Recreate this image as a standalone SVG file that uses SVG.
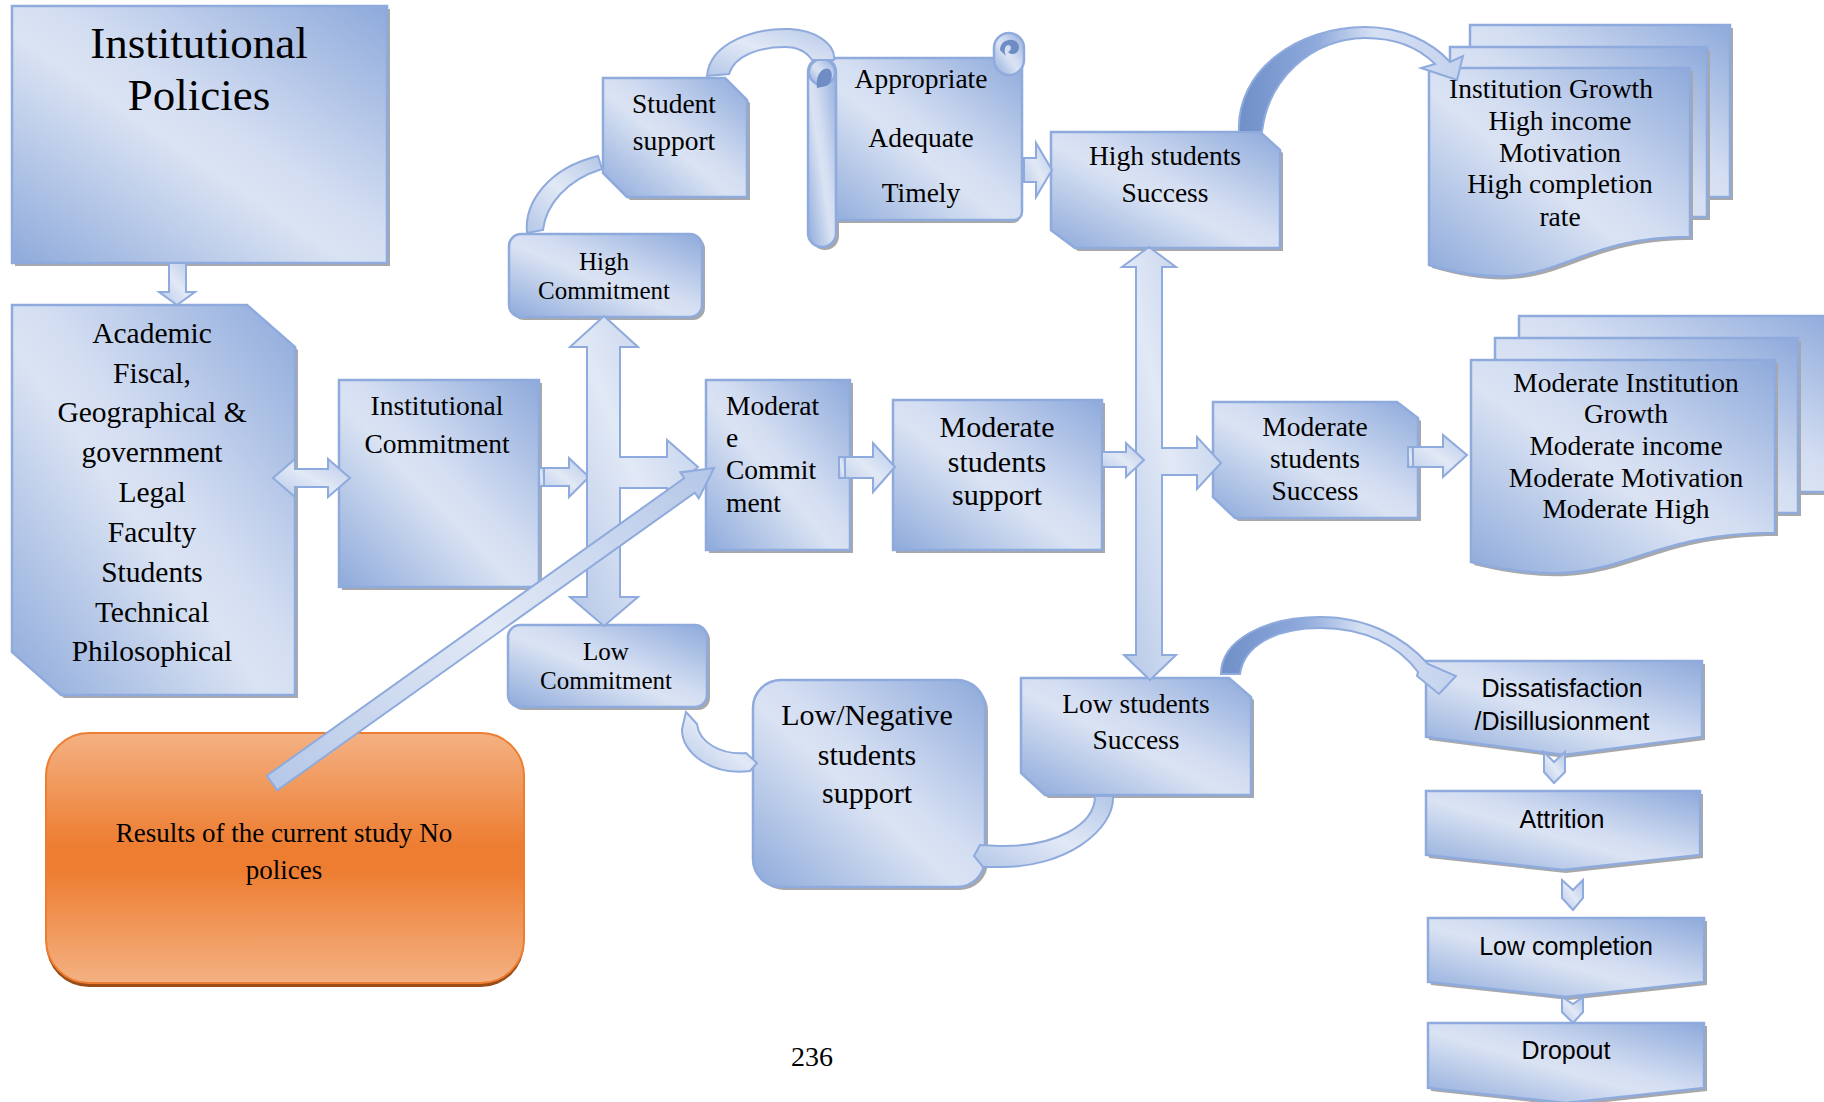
<svg xmlns="http://www.w3.org/2000/svg" width="1824" height="1102" viewBox="0 0 1824 1102">
<defs>
<linearGradient id="g" x1="1" y1="0" x2="0" y2="1">
<stop offset="0" stop-color="#8eaadb"/>
<stop offset="0.45" stop-color="#d4def2"/>
<stop offset="0.55" stop-color="#dae3f3"/>
<stop offset="1" stop-color="#8eaadb"/>
</linearGradient>
<linearGradient id="ga" x1="1" y1="0" x2="0" y2="1">
<stop offset="0" stop-color="#b4c7e7"/>
<stop offset="0.5" stop-color="#e2e9f6"/>
<stop offset="1" stop-color="#b4c7e7"/>
</linearGradient>
<linearGradient id="gc" x1="0" y1="0" x2="1" y2="0">
<stop offset="0" stop-color="#6f8fc8"/>
<stop offset="0.35" stop-color="#8faadc"/>
<stop offset="0.6" stop-color="#d6e0f3"/>
<stop offset="1" stop-color="#c4d3ee"/>
</linearGradient>
<linearGradient id="go" x1="0" y1="0" x2="0" y2="1">
<stop offset="0" stop-color="#f4b183"/>
<stop offset="0.45" stop-color="#ed7d31"/>
<stop offset="0.55" stop-color="#ed7d31"/>
<stop offset="1" stop-color="#f4b183"/>
</linearGradient>
<style>
.n{fill:url(#g);stroke:#8faadc;stroke-width:2.5}
.sh{fill:#a8a8a8}
.a{fill:url(#ga);stroke:#8faadc;stroke-width:2}
.c{fill:url(#gc);stroke:#8faadc;stroke-width:2}
.dk{fill:#6f8cc4}
.t{font-family:"Liberation Serif","Times New Roman",serif;fill:#000;text-anchor:middle}
.s{font-family:"Liberation Sans",Arial,sans-serif;fill:#000;text-anchor:middle;font-size:25px}
</style>
</defs>
<rect width="1824" height="1102" fill="#fff"/>

<g id="institutional-policies">
<rect class="sh" x="15" y="9" width="375" height="257"/>
<rect class="n" x="12" y="6" width="375" height="257"/>
<text class="t" font-size="45" x="199" y="58">Institutional</text>
<text class="t" font-size="45" x="199" y="110">Policies</text>
</g>

<g id="academic">
<polygon class="sh" points="15,308 250,308 298,350 298,698 64,698 15,655"/>
<polygon class="n" points="12,305 247,305 295,347 295,695 61,695 12,652"/>
<g class="t" font-size="29.5">
<text x="152" y="343">Academic</text>
<text x="152" y="383">Fiscal,</text>
<text x="152" y="422">Geographical &amp;</text>
<text x="152" y="462">government</text>
<text x="152" y="502">Legal</text>
<text x="152" y="542">Faculty</text>
<text x="152" y="582">Students</text>
<text x="152" y="622">Technical</text>
<text x="152" y="661">Philosophical</text>
</g>
</g>

<g id="institutional-commitment">
<rect class="sh" x="342" y="383" width="200" height="207"/>
<rect class="n" x="339" y="380" width="200" height="207"/>
<text class="t" font-size="27.5" x="437" y="415">Institutional</text>
<text class="t" font-size="27.5" x="437" y="453">Commitment</text>
</g>

<g id="high-commitment">
<rect class="sh" x="512" y="237" width="193" height="83" rx="12"/>
<rect class="n" x="509" y="234" width="193" height="83" rx="12"/>
<text class="t" font-size="25" x="604" y="270">High</text>
<text class="t" font-size="25" x="604" y="299">Commitment</text>
</g>

<g id="low-commitment">
<rect class="sh" x="511" y="628" width="199" height="82" rx="12"/>
<rect class="n" x="508" y="625" width="199" height="82" rx="12"/>
<text class="t" font-size="25" x="606" y="660">Low</text>
<text class="t" font-size="25" x="606" y="689">Commitment</text>
</g>

<g id="student-support">
<polygon class="sh" points="606,81 728,81 750,103 750,200 630,200 606,176"/>
<polygon class="n" points="603,78 725,78 747,100 747,197 627,197 603,173"/>
<text class="t" font-size="27.5" x="674" y="113">Student</text>
<text class="t" font-size="27.5" x="674" y="150">support</text>
</g>

<g id="appropriate-scroll">
<rect class="sh" x="825" y="61" width="196" height="162" rx="8"/>
<rect class="sh" x="811" y="61" width="28" height="189" rx="14"/>
<rect class="n" x="822" y="58" width="200" height="162" rx="8"/>
<rect class="n" x="994" y="33" width="30" height="42" rx="15"/>
<path class="dk" d="M1000 50 C1000 38 1018 36 1019 47 C1019 54 1012 56 1008 52 C1012 50 1012 45 1008 45 C1004 46 1004 52 1006 56 Z"/>
<rect class="n" x="808" y="58" width="28" height="189" rx="14"/>
<circle class="n" cx="822" cy="72" r="13"/>
<path class="dk" d="M817 88 C815 76 822 66 829 69 C834 72 832 84 826 86 Z"/>
<text class="t" font-size="27.5" x="921" y="88">Appropriate</text>
<text class="t" font-size="27.5" x="921" y="147">Adequate</text>
<text class="t" font-size="27.5" x="921" y="202">Timely</text>
</g>

<g id="high-students-success">
<polygon class="sh" points="1054,135 1263,135 1283,153 1283,251 1078,251 1054,233"/>
<polygon class="n" points="1051,132 1260,132 1280,150 1280,248 1075,248 1051,230"/>
<text class="t" font-size="27.5" x="1165" y="165">High students</text>
<text class="t" font-size="27.5" x="1165" y="202">Success</text>
</g>

<g id="institution-growth">
<rect class="sh" x="1473" y="28" width="260" height="172"/>
<rect class="n" x="1470" y="25" width="260" height="172"/>
<rect class="sh" x="1453" y="50" width="257" height="170"/>
<rect class="n" x="1450" y="47" width="257" height="170"/>
<path class="sh" d="M1432 71 L1693 71 L1693 240 C1562 240 1562 305 1432 268 Z"/>
<path class="n" d="M1429 68 L1690 68 L1690 237 C1559 237 1559 302 1429 265 Z"/>
<g class="t" font-size="27.5">
<text x="1551" y="98">Institution Growth</text>
<text x="1560" y="130">High income</text>
<text x="1560" y="162">Motivation</text>
<text x="1560" y="193">High completion</text>
<text x="1560" y="226">rate</text>
</g>
</g>

<g id="moderate-commitment">
<rect class="sh" x="709" y="383" width="144" height="170"/>
<rect class="n" x="706" y="380" width="144" height="170"/>
<g class="t" font-size="27.5" style="text-anchor:start">
<text x="726" y="415">Moderat</text>
<text x="726" y="447">e</text>
<text x="726" y="479">Commit</text>
<text x="726" y="512">ment</text>
</g>
</g>

<g id="moderate-students-support">
<rect class="sh" x="896" y="403" width="209" height="150"/>
<rect class="n" x="893" y="400" width="209" height="150"/>
<text class="t" font-size="30" x="997" y="437">Moderate</text>
<text class="t" font-size="30" x="997" y="472">students</text>
<text class="t" font-size="30" x="997" y="505">support</text>
</g>

<g id="moderate-students-success">
<polygon class="sh" points="1216,405 1400,405 1421,421 1421,521 1238,521 1216,500"/>
<polygon class="n" points="1213,402 1397,402 1418,418 1418,518 1235,518 1213,497"/>
<text class="t" font-size="27.5" x="1315" y="436">Moderate</text>
<text class="t" font-size="27.5" x="1315" y="468">students</text>
<text class="t" font-size="27.5" x="1315" y="500">Success</text>
</g>

<g id="moderate-growth">
<rect class="sh" x="1522" y="319" width="320" height="176"/>
<rect class="n" x="1519" y="316" width="320" height="176"/>
<rect class="sh" x="1498" y="341" width="303" height="175"/>
<rect class="n" x="1495" y="338" width="303" height="175"/>
<path class="sh" d="M1474 363 L1778 363 L1778 536 C1626 536 1626 602 1474 565 Z"/>
<path class="n" d="M1471 360 L1775 360 L1775 533 C1623 533 1623 599 1471 562 Z"/>
<g class="t" font-size="27.5">
<text x="1626" y="392">Moderate Institution</text>
<text x="1626" y="423">Growth</text>
<text x="1626" y="455">Moderate income</text>
<text x="1626" y="487">Moderate Motivation</text>
<text x="1626" y="518">Moderate High</text>
</g>
</g>

<g id="low-students-success">
<polygon class="sh" points="1024,681 1232,681 1254,700 1254,798 1048,798 1024,776"/>
<polygon class="n" points="1021,678 1229,678 1251,697 1251,795 1045,795 1021,773"/>
<text class="t" font-size="27.5" x="1136" y="713">Low students</text>
<text class="t" font-size="27.5" x="1136" y="749">Success</text>
</g>

<g id="low-negative-support">
<rect class="sh" x="756" y="683" width="232" height="207" rx="28"/>
<rect class="n" x="753" y="680" width="232" height="207" rx="28"/>
<text class="t" font-size="30" x="867" y="725">Low/Negative</text>
<text class="t" font-size="30" x="867" y="765">students</text>
<text class="t" font-size="30" x="867" y="803">support</text>
</g>

<g id="results">
<rect x="46" y="737" width="478" height="250" rx="43" fill="#9a4b16"/>
<rect x="46" y="733" width="478" height="250" rx="43" fill="url(#go)" stroke="#ed7d31" stroke-width="2"/>
<text class="t" font-size="27" x="284" y="842">Results of the current study No</text>
<text class="t" font-size="27" x="284" y="879">polices</text>
</g>

<g id="dissatisfaction">
<polygon class="sh" points="1429,664 1705,664 1705,740 1565,758 1429,740"/>
<polygon class="n" points="1426,661 1702,661 1702,737 1564,755 1426,737"/>
<text class="s" x="1562" y="697">Dissatisfaction</text>
<text class="s" x="1562" y="730">/Disillusionment</text>
</g>

<g id="attrition">
<polygon class="sh" points="1429,794 1703,794 1703,858 1566,873 1429,858"/>
<polygon class="n" points="1426,791 1700,791 1700,855 1563,870 1426,855"/>
<text class="s" x="1562" y="828">Attrition</text>
</g>

<g id="low-completion">
<polygon class="sh" points="1431,921 1707,921 1707,985 1569,1000 1431,985"/>
<polygon class="n" points="1428,918 1704,918 1704,982 1566,997 1428,982"/>
<text class="s" x="1566" y="955">Low completion</text>
</g>

<g id="dropout">
<polygon class="sh" points="1431,1026 1707,1026 1707,1091 1569,1106 1431,1091"/>
<polygon class="n" points="1428,1023 1704,1023 1704,1088 1566,1103 1428,1088"/>
<text class="s" x="1566" y="1059">Dropout</text>
</g>

<g id="page-number">
<text class="t" font-size="28" x="812" y="1066">236</text>
</g>

<g id="connectors">
<polygon class="a" points="169,263 186,263 186,292 195,292 177,305 159,292 169,292"/>
<polygon class="a" points="273,478 295,459 295,469 328,469 328,459 350,478 328,497 328,487 295,487 295,497"/>
<polygon class="a" points="539,468 569,468 569,458 589,477 569,497 569,486 539,486"/>
<rect class="a" x="539" y="468" width="5" height="18"/>
<polygon class="a" points="604,316 638,347 620,347 620,457 667,457 667,440 698,467 667,494 667,488 620,488 620,597 638,597 604,626 570,597 587,597 587,347 570,347"/>
<polygon class="a" points="839,457 873,457 873,443 895,467 873,492 873,478 839,478"/>
<rect class="a" x="839" y="457" width="6" height="21"/>
<polygon class="a" points="1149,247 1176,267 1162,267 1162,448 1197,448 1197,437 1221,463 1197,489 1197,475 1162,475 1162,655 1176,655 1150,680 1124,655 1136,655 1136,267 1122,267"/>
<polygon class="a" points="1102,452 1126,452 1126,443 1144,460 1126,477 1126,467 1102,467"/>
<polygon class="a" points="1408,447 1443,447 1443,435 1467,455 1443,477 1443,467 1408,467"/>
<rect class="a" x="1408" y="447" width="5" height="20"/>
<polygon class="a" points="1024,158 1036,158 1036,143 1052,170 1036,197 1036,182 1024,182"/>
<polygon class="a" points="266.8,775.7 684.3,478.1 680.3,472.4 714,468 698.8,498.4 694.8,492.7 277.2,790.3"/>
<path class="a" d="M527 233 C524 203 548 168 598 156 L602 169 C566 180 546 205 543 230 Z"/>
<path class="a" d="M707 76 C710 42 755 28 790 29 C815 30 836 44 834 60 L812 60 C806 51 797 47 785 47 C760 47 735 55 729 74 Z"/>
<path class="c" d="M1239 132 C1236 70 1298 27 1365 27 C1402 27 1432 42 1450 62 L1463 56 L1457 80 L1421 68 L1435 64 C1418 47 1395 38 1365 38 C1310 39 1268 80 1262 132 Z"/>
<path class="c" d="M1221 674 C1221 640 1265 617 1320 617 C1368 617 1405 638 1428 664 L1456 676 L1439 694 L1417 676 L1418 672 C1398 645 1365 628 1320 628 C1275 628 1244 646 1240 674 Z"/>
<path class="a" d="M1095 796 C1095 825 1055 847 1000 846 L980 845 L974 856 L983 867 L1000 867 C1065 868 1115 830 1113 796 Z"/>
<path class="a" d="M686 712 L697 724 C699 742 720 755 746 753 L757 763 L750 771 C711 776 681 752 682 729 Z"/>
<polygon class="a" points="1544,752 1554,762 1565,752 1565,772 1554,783 1544,772"/>
<polygon class="a" points="1562,880 1573,890 1583,880 1583,898 1573,910 1562,898"/>
<polygon class="a" points="1562,997 1573,1004 1583,997 1583,1012 1573,1023 1562,1012"/>
</g>
</svg>
